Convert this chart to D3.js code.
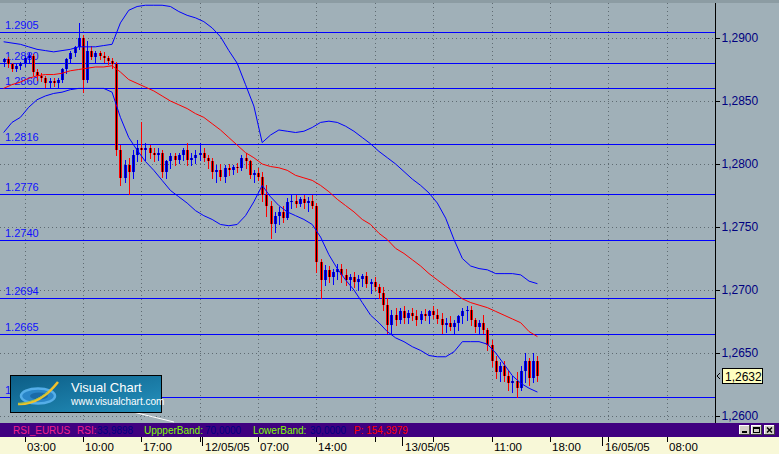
<!DOCTYPE html>
<html><head><meta charset="utf-8">
<script src="https://cdn.jsdelivr.net/npm/d3@7"></script>
<style>body{margin:0;background:#a0b0b8;overflow:hidden}svg{display:block}</style>
</head><body><svg id="c" width="779" height="454"></svg>
<script>
// ---------- data (EUR/USD 30-min bars, 11/05/05 00:30 .. 13/05/05 16:30) ----------
const barStartHour = 0.5, barStepHours = 0.5;
const firstOpen = 1.2881;
const closes = [1.2883,1.2879,1.2875,1.2878,1.2880,1.2884,1.2886,1.2873,1.2870,1.2868,
1.2864,1.2866,1.2864,1.2867,1.2875,1.2883,1.2888,1.2893,1.2900,1.2867,
1.2890,1.2885,1.2888,1.2886,1.2884,1.2882,1.2879,1.2811,1.2789,1.2799,
1.2794,1.2807,1.2813,1.2811,1.2813,1.2809,1.2807,1.2809,1.2794,1.2802,
1.2806,1.2803,1.2807,1.2811,1.2803,1.2805,1.2807,1.2809,1.2805,1.2802,
1.2794,1.2795,1.2790,1.2797,1.2795,1.2798,1.2797,1.2805,1.2802,1.2791,
1.2793,1.2790,1.2775,1.2767,1.2752,1.2759,1.2762,1.2757,1.2770,1.2771,
1.2768,1.2772,1.2769,1.2771,1.2767,1.2722,1.2708,1.2716,1.2710,1.2714,
1.2717,1.2712,1.2708,1.2710,1.2706,1.2709,1.2711,1.2705,1.2706,1.2702,
1.2698,1.2688,1.2672,1.2680,1.2676,1.2683,1.2678,1.2682,1.2679,1.2676,
1.2681,1.2679,1.2683,1.2680,1.2677,1.2672,1.2674,1.2671,1.2674,1.2679,
1.2683,1.2684,1.2676,1.2671,1.2674,1.2668,1.2656,1.2644,1.2635,1.2640,
1.2632,1.2626,1.2628,1.2622,1.2636,1.2644,1.2630,1.2644,1.2632];
const highs = [1.2884,1.2885,1.2880,1.2879,1.2881,1.2886,1.2888,1.2887,1.2875,1.2872,
1.2870,1.2868,1.2868,1.2868,1.2876,1.2884,1.2890,1.2894,1.2912,1.2902,
1.2898,1.2894,1.2890,1.2890,1.2889,1.2886,1.2884,1.2881,1.2815,1.2803,
1.2805,1.2811,1.2819,1.2833,1.2817,1.2815,1.2813,1.2813,1.2811,1.2803,
1.2809,1.2809,1.2809,1.2813,1.2817,1.2809,1.2811,1.2817,1.2813,1.2807,
1.2805,1.2799,1.2800,1.2799,1.2800,1.2799,1.2801,1.2807,1.2809,1.2803,
1.2795,1.2797,1.2794,1.2783,1.2771,1.2762,1.2766,1.2767,1.2773,1.2775,
1.2775,1.2774,1.2775,1.2774,1.2775,1.2769,1.2725,1.2720,1.2719,1.2717,
1.2721,1.2721,1.2717,1.2713,1.2714,1.2712,1.2713,1.2714,1.2709,1.2710,
1.2705,1.2702,1.2694,1.2684,1.2686,1.2686,1.2687,1.2684,1.2686,1.2684,
1.2683,1.2685,1.2684,1.2687,1.2685,1.2682,1.2678,1.2679,1.2676,1.2680,
1.2686,1.2687,1.2687,1.2678,1.2676,1.2680,1.2670,1.2660,1.2648,1.2643,
1.2644,1.2636,1.2632,1.2635,1.2640,1.2650,1.2646,1.2650,1.2648];
const lows = [1.2878,1.2877,1.2874,1.2874,1.2875,1.2878,1.2881,1.2871,1.2867,1.2866,
1.2861,1.2861,1.2862,1.2861,1.2865,1.2872,1.2880,1.2886,1.2891,1.2857,
1.2865,1.2883,1.2881,1.2883,1.2881,1.2879,1.2876,1.2807,1.2783,1.2786,
1.2776,1.2789,1.2802,1.2802,1.2803,1.2805,1.2802,1.2803,1.2790,1.2789,
1.2797,1.2799,1.2801,1.2803,1.2799,1.2799,1.2801,1.2803,1.2802,1.2797,
1.2789,1.2786,1.2787,1.2786,1.2791,1.2792,1.2794,1.2795,1.2797,1.2789,
1.2786,1.2787,1.2771,1.2759,1.2741,1.2746,1.2752,1.2754,1.2756,1.2765,
1.2766,1.2767,1.2765,1.2763,1.2765,1.2714,1.2694,1.2704,1.2706,1.2705,
1.2709,1.2706,1.2704,1.2700,1.2702,1.2700,1.2703,1.2702,1.2698,1.2700,
1.2694,1.2684,1.2666,1.2666,1.2672,1.2674,1.2674,1.2674,1.2676,1.2672,
1.2674,1.2676,1.2674,1.2678,1.2674,1.2666,1.2667,1.2668,1.2666,1.2668,
1.2674,1.2676,1.2672,1.2667,1.2666,1.2666,1.2652,1.2640,1.2630,1.2628,
1.2628,1.2621,1.2619,1.2615,1.2621,1.2627,1.2625,1.2627,1.2628];

// indicators sampled hourly (h = 0.5, 1.5, ...)
const indStartHour = 0.5, indStepHours = 1;
const movingAverage = [1.2860,1.2863,1.2865,1.2868,1.2870,1.2871,1.2871,1.2872,1.2874,1.2875,
1.2876,1.2877,1.2877,1.2878,1.2873,1.2867,1.2864,1.2861,1.2858,1.2854,
1.2850,1.2847,1.2844,1.2840,1.2837,1.2832,1.2827,1.2821,1.2815,1.2809,
1.2805,1.2800,1.2798,1.2797,1.2795,1.2791,1.2789,1.2787,1.2783,1.2778,
1.2772,1.2767,1.2762,1.2756,1.2752,1.2745,1.2740,1.2733,1.2729,1.2724,
1.2719,1.2713,1.2708,1.2703,1.2698,1.2693,1.2690,1.2688,1.2686,1.2683,
1.2680,1.2677,1.2674,1.2667,1.2663];
const upperBand = [1.2897,1.2896,1.2895,1.2893,1.2891,1.2890,1.2889,1.2890,1.2891,1.2893,
1.2893,1.2893,1.2894,1.2895,1.2912,1.2922,1.2925,1.2926,1.2926,1.2926,
1.2925,1.2921,1.2918,1.2916,1.2913,1.2908,1.2901,1.2890,1.2880,1.2863,
1.2846,1.2817,1.2823,1.2827,1.2826,1.2825,1.2826,1.2829,1.2833,1.2834,
1.2833,1.2830,1.2826,1.2821,1.2816,1.2810,1.2805,1.2800,1.2794,1.2788,
1.2783,1.2777,1.2769,1.2757,1.2740,1.2725,1.2719,1.2717,1.2716,1.2713,
1.2713,1.2713,1.2712,1.2707,1.2705];
const lowerBand = [1.2825,1.2833,1.2837,1.2845,1.2851,1.2854,1.2856,1.2857,1.2859,1.2860,
1.2860,1.2860,1.2860,1.2857,1.2837,1.2821,1.2811,1.2802,1.2795,1.2787,
1.2779,1.2774,1.2769,1.2763,1.2759,1.2756,1.2752,1.2751,1.2752,1.2759,
1.2770,1.2783,1.2774,1.2767,1.2762,1.2759,1.2756,1.2752,1.2742,1.2728,
1.2717,1.2708,1.2700,1.2690,1.2680,1.2674,1.2667,1.2662,1.2659,1.2655,
1.2652,1.2648,1.2647,1.2647,1.2651,1.2659,1.2659,1.2659,1.2657,1.2650,
1.2641,1.2632,1.2626,1.2622,1.2619];

const levels = [1.2905,1.2880,1.2860,1.2816,1.2776,1.2740,1.2694,1.2665,1.2615];
const levelLabels = ["1.2905","1.2880","1.2860","1.2816","1.2776","1.2740","1.2694","1.2665","1.2615"];
const priceTicks = [1.2600,1.2650,1.2700,1.2750,1.2800,1.2850,1.2900];
const hourTicks = [3,10,17,24,31,38,45,52,59,66,73,80];
const hourLabels = ["03:00","10:00","17:00","","07:00","14:00","","","11:00","18:00","","08:00"];
const dayTicks = [24.25,48.25,72.25];
const dayLabels = ["12/05/05","13/05/05","16/05/05"];
const lastPrice = 1.2632;
const statusItems = [
  {t:"RSI_EURUS",c:"#f0208c",x:13},{t:"RSI:",c:"#f0208c",x:77},{t:"33,9898",c:"#000080",x:97},
  {t:"UppperBand:",c:"#80ff00",x:144},{t:"70,0000",c:"#000080",x:205},
  {t:"LowerBand:",c:"#80ff00",x:253},{t:"30,0000",c:"#000080",x:310},
  {t:"P: 154,3979",c:"#ff0000",x:354}];

// ---------- layout ----------
const W=779,H=454, plotTop=3, plotBottom=423, axisX=715;
const FONT="'Liberation Sans', Arial, sans-serif";
const svg=d3.select("#c");
const x=d3.scaleLinear().domain([3,80]).range([24.5,666.7]);
const y=d3.scaleLinear().domain([1.26,1.29]).range([416,38]);
const px=v=>Math.round(v)+0.5;

svg.append("rect").attr("width",W).attr("height",H).attr("fill","#a0b0b8");
svg.append("rect").attr("width",W).attr("height",plotTop).attr("fill","#8c9ca3");

// dotted grid
const grid=svg.append("g").attr("stroke","#5f6b72").attr("stroke-dasharray","1,3").attr("shape-rendering","crispEdges");
priceTicks.forEach(v=>grid.append("line").attr("x1",0).attr("x2",axisX).attr("y1",px(y(v))).attr("y2",px(y(v))));
hourTicks.forEach(h=>grid.append("line").attr("x1",px(x(h))).attr("x2",px(x(h))).attr("y1",plotTop).attr("y2",plotBottom));

// level lines + labels
const lv=svg.append("g");
levels.forEach((v,i)=>{
  lv.append("line").attr("x1",0).attr("x2",axisX).attr("y1",px(y(v))).attr("y2",px(y(v)))
    .attr("stroke","#0000ff").attr("shape-rendering","crispEdges");
  lv.append("text").attr("x",5).attr("y",Math.round(y(v))-3).text(levelLabels[i])
    .attr("font-family",FONT).attr("font-size",11).attr("fill","#1010ff");
});

// candles
const bars=closes.map((c,i)=>({h:barStartHour+barStepHours*i,o:i?closes[i-1]:firstOpen,c,hi:highs[i],lo:lows[i]}));
const cg=svg.append("g").attr("shape-rendering","crispEdges");
bars.forEach(b=>{
  const cx=Math.round(x(b.h));
  const up=b.c>=b.o;
  const top=Math.round(y(Math.max(b.o,b.c))), bot=Math.max(Math.round(y(Math.min(b.o,b.c))),top+1);
  cg.append("line").attr("x1",cx+0.5).attr("x2",cx+0.5).attr("y1",Math.round(y(b.hi))).attr("y2",Math.round(y(b.lo))+1)
    .attr("stroke",up?"#0000ff":"#ff0000");
  cg.append("rect").attr("x",cx-1).attr("y",top).attr("width",3).attr("height",bot-top)
    .attr("fill",up?"#0000ff":"#ff0000");
  cg.append("rect").attr("x",cx).attr("y",top).attr("width",1).attr("height",bot-top)
    .attr("fill",up?"#000080":"#000000");
});

// indicators
const ind=(arr)=>arr.map((v,k)=>[x(indStartHour+indStepHours*k),y(v)]);
const line=d3.line();
svg.append("path").attr("d",line(ind(upperBand))).attr("fill","none").attr("stroke","#0000ff").attr("stroke-width",1);
svg.append("path").attr("d",line(ind(lowerBand))).attr("fill","none").attr("stroke","#0000ff").attr("stroke-width",1);
svg.append("path").attr("d",line(ind(movingAverage))).attr("fill","none").attr("stroke","#ff0000").attr("stroke-width",1);

// right axis
svg.append("line").attr("x1",axisX+0.5).attr("x2",axisX+0.5).attr("y1",plotTop).attr("y2",plotBottom)
  .attr("stroke","#000").attr("shape-rendering","crispEdges");
const ax=svg.append("g").attr("transform",`translate(${axisX+0.5},0)`)
  .call(d3.axisRight(y).tickValues(priceTicks).tickSize(4).tickPadding(2).tickFormat(d=>d3.format(".4f")(d).replace(".",",")));
ax.select(".domain").remove();
ax.selectAll("line").attr("stroke","#000").attr("shape-rendering","crispEdges");
ax.selectAll("text").attr("font-family",FONT).attr("font-size",12).attr("fill","#000080");

// last price tag
const ly=Math.round(y(lastPrice));
svg.append("path").attr("d",`M720,${ly-3} L717,${ly} L720,${ly+3}`).attr("fill","none").attr("stroke","#000");
svg.append("rect").attr("x",722.5).attr("y",ly-7.5).attr("width",40).attr("height",15).attr("fill","#ffffc0").attr("stroke","#000");
svg.append("text").attr("x",725).attr("y",ly+4.5).text(d3.format(".4f")(lastPrice).replace(".",","))
  .attr("font-family",FONT).attr("font-size",12).attr("fill","#000");

// status bar
svg.append("rect").attr("x",0).attr("y",plotBottom).attr("width",W).attr("height",14).attr("fill","#400080");
statusItems.forEach(s=>svg.append("text").attr("x",s.x).attr("y",434).text(s.t)
  .attr("font-family",FONT).attr("font-size",10).attr("fill",s.c));
// window buttons
[739,751,764].forEach((bx,i)=>{
  const g=svg.append("g").attr("shape-rendering","crispEdges");
  g.append("rect").attr("x",bx).attr("y",425).attr("width",11).attr("height",10).attr("fill","#d4d0c8");
  g.append("path").attr("d",`M${bx+0.5},435 V425.5 H${bx+11}`).attr("stroke","#fff").attr("fill","none");
  g.append("path").attr("d",`M${bx},434.5 H${bx+10.5} V425`).attr("stroke","#404040").attr("fill","none");
  if(i==0) g.append("rect").attr("x",bx+3).attr("y",431).attr("width",5).attr("height",2).attr("fill","#000");
  if(i==1){g.append("rect").attr("x",bx+2.5).attr("y",427.5).attr("width",6).attr("height",5).attr("fill","none").attr("stroke","#000");
           g.append("rect").attr("x",bx+2).attr("y",427).attr("width",7).attr("height",2).attr("fill","#000");}
  if(i==2) g.append("path").attr("d",`M${bx+3},427.5 L${bx+8},432.5 M${bx+8},427.5 L${bx+3},432.5`).attr("stroke","#000").attr("stroke-width",1.5).attr("shape-rendering","auto");
});

// bottom time axis
svg.append("rect").attr("x",0).attr("y",437).attr("width",W).attr("height",17).attr("fill","#f8f8d8");
const tg=svg.append("g").attr("shape-rendering","crispEdges");
hourTicks.forEach((h,i)=>{
  tg.append("line").attr("x1",px(x(h))).attr("x2",px(x(h))).attr("y1",437).attr("y2",442).attr("stroke","#000");
  if(hourLabels[i]) tg.append("text").attr("x",Math.round(x(h))+2).attr("y",451).text(hourLabels[i])
      .attr("font-family",FONT).attr("font-size",11.5).attr("fill","#000");
});
dayTicks.forEach((h,i)=>{
  tg.append("line").attr("x1",px(x(h))).attr("x2",px(x(h))).attr("y1",437).attr("y2",446).attr("stroke","#000");
  tg.append("text").attr("x",Math.round(x(h))+3).attr("y",451).text(dayLabels[i])
      .attr("font-family",FONT).attr("font-size",11.5).attr("fill","#000");
});

// Visual Chart logo
const defs=svg.append("defs");
const gr=defs.append("linearGradient").attr("id","lg").attr("x1",0).attr("y1",0).attr("x2",1).attr("y2",1);
gr.append("stop").attr("offset","0").attr("stop-color","#0c5d86");
gr.append("stop").attr("offset","1").attr("stop-color","#2592be");
const lg=svg.append("g");
lg.append("line").attr("x1",133).attr("y1",412).attr("x2",174).attr("y2",422).attr("stroke","#fff");
lg.append("rect").attr("x",10.5).attr("y",375.5).attr("width",151).attr("height",37).attr("fill","url(#lg)").attr("stroke","#000");
lg.append("ellipse").attr("cx",38).attr("cy",396).attr("rx",17).attr("ry",7.5).attr("fill","#2a86c8").attr("stroke","#55aee8").attr("stroke-width",2.5);
lg.append("ellipse").attr("cx",39).attr("cy",396).attr("rx",9).attr("ry",3.5).attr("fill","#1a6aa8");
lg.append("path").attr("d","M18,404 Q40,405 58,382").attr("fill","none").attr("stroke","#f2c12a").attr("stroke-width",2.5);
lg.append("path").attr("d","M18,404 Q36,402 48,392").attr("fill","none").attr("stroke","#9fc24a").attr("stroke-width",1);
lg.append("text").attr("x",71).attr("y",392).text("Visual Chart").attr("font-family",FONT).attr("font-size",13).attr("fill","#fff");
lg.append("text").attr("x",71).attr("y",405).text("www.visualchart.com").attr("font-family",FONT).attr("font-size",10).attr("fill","#fff");
</script></body></html>
